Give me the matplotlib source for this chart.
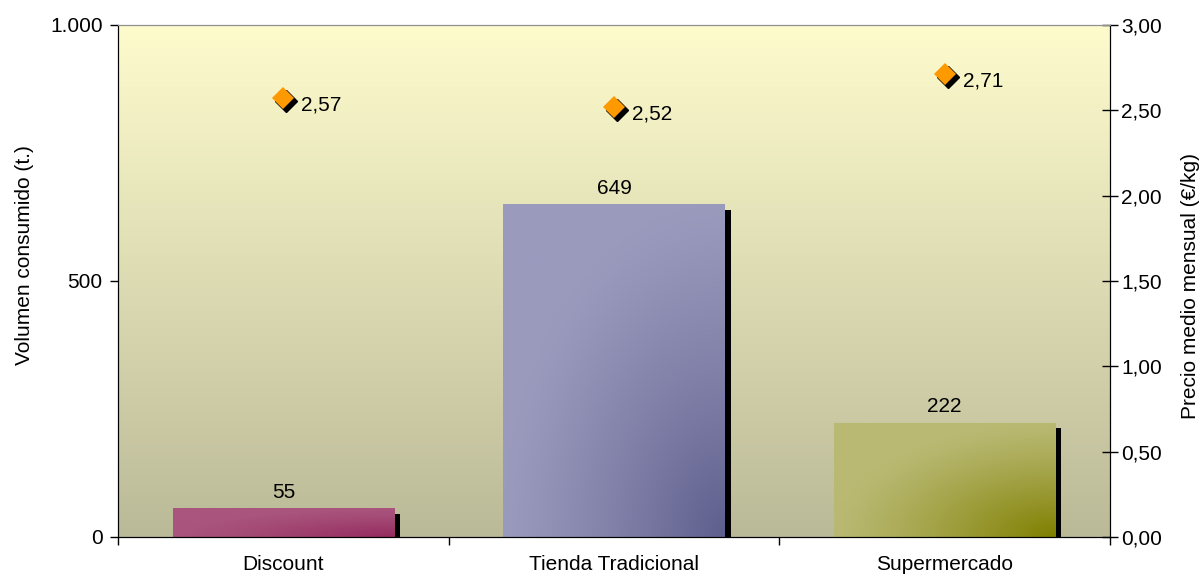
import numpy as np
import matplotlib
matplotlib.use("Agg")
import matplotlib.pyplot as plt
from matplotlib import transforms
from matplotlib.ticker import FixedLocator, FuncFormatter

plt.rcParams['font.family'] = ['Liberation Sans', 'DejaVu Sans']
FS = 15

categories = ["Discount", "Tienda Tradicional", "Supermercado"]
volumen = [55, 649, 222]
precio = [2.57, 2.52, 2.71]

# colores de las barras: (claro arriba-izquierda, oscuro abajo-derecha)
bar_colors = [("#A9557D", "#952B5F"),
              ("#9A9ABD", "#5F5F8E"),
              ("#B9B973", "#7F7F00")]

fig = plt.figure(figsize=(12.04, 5.77), dpi=100)
ax = fig.add_axes([118/1204, 1 - 537/577, (1110 - 118)/1204, (537 - 25)/577])

# fondo degradado
top = np.array(matplotlib.colors.to_rgb("#FEFCCD"))
bot = np.array(matplotlib.colors.to_rgb("#BBBA98"))
t = np.linspace(0, 1, 256)[:, None]
bg = (top * (1 - t) + bot * t)[:, None, :]
ax.imshow(bg, extent=[0, 1, 0, 1], transform=ax.transAxes, aspect='auto', zorder=0)

x = np.arange(len(categories))
width = 0.67

# sombras
shadow = transforms.offset_copy(ax.transData, fig=fig, x=6, y=-5, units='dots')
for xi, v in zip(x, volumen):
    ax.bar(xi, v, width=width, color='black', transform=shadow, zorder=1)

# barras con degradado
nx, ny = 120, 120
xf = np.linspace(0, 1, nx)[None, :]
yf = np.linspace(1, 0, ny)[:, None]  # 1 arriba, 0 abajo
for xi, v, (c1, c2) in zip(x, volumen, bar_colors):
    c1 = np.array(matplotlib.colors.to_rgb(c1))
    c2 = np.array(matplotlib.colors.to_rgb(c2))
    d = np.sqrt((1 - xf) ** 2 + yf ** 2)
    k = np.clip(1 - d / 1.0, 0, 1) ** 1.2
    img = c1 * (1 - k[..., None]) + c2 * k[..., None]
    ax.imshow(img, extent=[xi - width/2, xi + width/2, 0, v], aspect='auto', zorder=2)
    ax.annotate(f"{v}", (xi, v), xytext=(0, 5), textcoords='offset points',
                ha='center', va='bottom', fontsize=FS, zorder=5)

ax.set_xlim(-0.5, len(categories) - 0.5)
ax.set_ylim(0, 1000)
ax.set_yticks([0, 500, 1000])
ax.yaxis.set_major_formatter(FuncFormatter(lambda v, p: f"{int(v):,}".replace(",", ".")))
ax.set_ylabel("Volumen consumido (t.)", fontsize=FS)
ax.yaxis.set_label_coords((34 - 118) / 992, 0.55)

ax.xaxis.set_major_locator(FixedLocator([-0.5, 0.5, 1.5, 2.5]))
ax.xaxis.set_major_formatter(FuncFormatter(lambda v, p: ""))
ax.xaxis.set_minor_locator(FixedLocator(x))
ax.set_xticklabels(categories, minor=True)
ax.tick_params(axis='x', which='major', length=6, width=1)
ax.tick_params(axis='x', which='minor', length=0, pad=13, labelsize=FS)
ax.tick_params(axis='y', length=6, width=1, labelsize=FS, pad=5)

for s in ['left', 'bottom', 'right']:
    ax.spines[s].set_color('black')
ax.spines['top'].set_color('#909090')

# eje derecho: precio
ax2 = ax.twinx()
ax2.set_ylim(0, 3)
ax2.set_yticks(np.arange(0, 3.01, 0.5))
ax2.yaxis.set_major_formatter(FuncFormatter(lambda v, p: f"{v:.2f}".replace(".", ",")))
ax2.tick_params(axis='y', direction='inout', length=12, width=1, labelsize=FS, pad=2)
ax2.set_ylabel("Precio medio mensual (€/kg)", fontsize=FS)
ax2.yaxis.set_label_coords((1181 - 118) / 992, 0.49)
ax2.spines['right'].set_color('black')
ax2.spines['top'].set_color('#909090')

mshadow = transforms.offset_copy(ax2.transData, fig=fig, x=3, y=-3, units='dots')
ax2.plot(x, precio, linestyle='none', marker='D', markersize=11, color='black',
         transform=mshadow, zorder=3)
ax2.plot(x, precio, linestyle='none', marker='D', markersize=11, color='#FF9900',
         markeredgewidth=0, zorder=4)
for xi, p in zip(x, precio):
    ax2.annotate(f"{p:.2f}".replace(".", ","), (xi, p), xytext=(13, -5),
                 textcoords='offset points', ha='left', va='center', fontsize=FS)

fig.savefig("out.png", dpi=100)
